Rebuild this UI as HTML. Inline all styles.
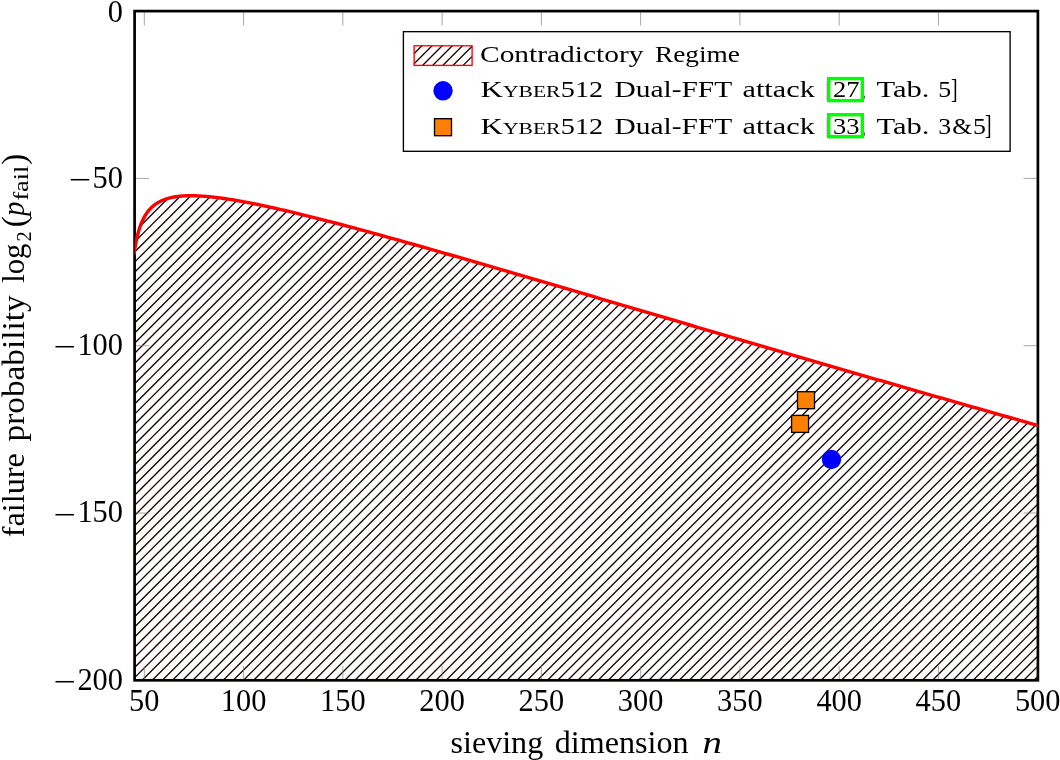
<!DOCTYPE html>
<html><head><meta charset="utf-8"><title>Contradictory Regime</title>
<style>html,body{margin:0;padding:0;background:#fff}svg{display:block}text{font-family:"Liberation Serif",serif;fill:#000}.i{font-style:italic}</style></head><body>
<svg width="1060" height="760" viewBox="0 0 1060 760">
<rect width="1060" height="760" fill="#fff"/>
<defs>
<clipPath id="ax"><rect x="134.6" y="11.1" width="903.3000000000001" height="669.1999999999999"/></clipPath>
<clipPath id="ar"><path d="M134.60,250.36 L134.80,249.08 L135.20,246.65 L135.60,244.39 L136.00,242.28 L136.40,240.30 L136.80,238.44 L137.20,236.70 L137.60,235.05 L138.00,233.50 L138.40,232.03 L138.80,230.64 L139.20,229.32 L139.60,228.07 L140.00,226.88 L140.40,225.75 L140.80,224.67 L141.20,223.64 L141.60,222.65 L142.00,221.71 L142.40,220.81 L142.80,219.95 L143.20,219.13 L143.60,218.33 L144.00,217.57 L144.40,216.84 L144.80,216.14 L145.20,215.47 L145.60,214.82 L146.00,214.19 L146.40,213.59 L146.80,213.01 L147.20,212.45 L147.60,211.91 L148.00,211.38 L148.40,210.88 L148.80,210.39 L149.20,209.92 L149.60,209.47 L150.00,209.03 L150.40,208.60 L150.80,208.19 L151.20,207.79 L151.60,207.40 L152.00,207.03 L152.40,206.66 L152.80,206.31 L153.20,205.97 L153.60,205.64 L154.00,205.32 L154.40,205.01 L154.80,204.70 L155.20,204.41 L155.60,204.13 L156.00,203.85 L156.40,203.58 L156.80,203.32 L157.20,203.07 L157.60,202.82 L158.00,202.59 L158.40,202.35 L158.80,202.13 L159.20,201.91 L159.60,201.70 L160.00,201.49 L162.00,200.54 L164.00,199.72 L166.00,199.01 L168.00,198.40 L170.00,197.87 L172.00,197.41 L174.00,197.03 L176.00,196.70 L178.00,196.43 L180.00,196.21 L182.00,196.03 L184.00,195.90 L186.00,195.80 L188.00,195.74 L190.00,195.71 L192.00,195.72 L194.00,195.74 L196.00,195.80 L198.00,195.87 L200.00,195.97 L202.00,196.09 L204.00,196.23 L206.00,196.39 L208.00,196.57 L210.00,196.76 L212.00,196.97 L214.00,197.19 L216.00,197.42 L218.00,197.67 L220.00,197.93 L222.00,198.20 L224.00,198.48 L226.00,198.77 L228.00,199.08 L230.00,199.39 L232.00,199.71 L234.00,200.04 L236.00,200.38 L238.00,200.72 L240.00,201.07 L242.00,201.43 L244.00,201.80 L246.00,202.18 L248.00,202.56 L250.00,202.94 L252.00,203.33 L254.00,203.73 L256.00,204.14 L258.00,204.54 L260.00,204.96 L262.00,205.38 L264.00,205.80 L266.00,206.23 L268.00,206.66 L270.00,207.10 L272.00,207.54 L274.00,207.98 L276.00,208.43 L278.00,208.88 L280.00,209.34 L282.00,209.80 L284.00,210.26 L286.00,210.72 L288.00,211.19 L290.00,211.66 L292.00,212.14 L294.00,212.62 L296.00,213.10 L298.00,213.58 L300.00,214.07 L306.00,215.54 L312.00,217.03 L318.00,218.55 L324.00,220.08 L330.00,221.62 L336.00,223.19 L342.00,224.76 L348.00,226.36 L354.00,227.96 L360.00,229.57 L366.00,231.20 L372.00,232.83 L378.00,234.48 L384.00,236.13 L390.00,237.79 L396.00,239.46 L402.00,241.13 L408.00,242.82 L414.00,244.51 L420.00,246.20 L426.00,247.90 L432.00,249.60 L438.00,251.31 L444.00,253.03 L450.00,254.75 L456.00,256.47 L462.00,258.20 L468.00,259.93 L474.00,261.66 L480.00,263.40 L486.00,265.13 L492.00,266.88 L498.00,268.62 L504.00,270.37 L510.00,272.12 L516.00,273.87 L522.00,275.62 L528.00,277.37 L534.00,279.13 L540.00,280.88 L546.00,282.64 L552.00,284.40 L558.00,286.16 L564.00,287.93 L570.00,289.69 L576.00,291.45 L582.00,293.22 L588.00,294.98 L594.00,296.74 L600.00,298.51 L606.00,300.28 L612.00,302.04 L618.00,303.81 L624.00,305.58 L630.00,307.34 L636.00,309.11 L642.00,310.88 L648.00,312.64 L654.00,314.41 L660.00,316.17 L666.00,317.94 L672.00,319.71 L678.00,321.47 L684.00,323.24 L690.00,325.00 L696.00,326.76 L702.00,328.53 L708.00,330.29 L714.00,332.05 L720.00,333.81 L726.00,335.57 L732.00,337.33 L738.00,339.09 L744.00,340.85 L750.00,342.61 L756.00,344.36 L762.00,346.12 L768.00,347.87 L774.00,349.63 L780.00,351.38 L786.00,353.13 L792.00,354.88 L798.00,356.63 L804.00,358.38 L810.00,360.13 L816.00,361.87 L822.00,363.62 L828.00,365.36 L834.00,367.10 L840.00,368.84 L846.00,370.58 L852.00,372.32 L858.00,374.06 L864.00,375.79 L870.00,377.53 L876.00,379.26 L882.00,380.99 L888.00,382.72 L894.00,384.45 L900.00,386.18 L906.00,387.90 L912.00,389.63 L918.00,391.35 L924.00,393.07 L930.00,394.79 L936.00,396.51 L942.00,398.23 L948.00,399.94 L954.00,401.65 L960.00,403.37 L966.00,405.08 L972.00,406.78 L978.00,408.49 L984.00,410.20 L990.00,411.90 L996.00,413.60 L1002.00,415.30 L1008.00,417.00 L1014.00,418.70 L1020.00,420.39 L1026.00,422.08 L1032.00,423.78 L1037.90,425.44 L1037.9,680.3 L134.6,680.3 Z"/><rect x="414.1" y="45.8" width="58" height="19.6"/></clipPath>
</defs>
<g clip-path="url(#ar)"><path d="M-552.04,685.3l655.3,-655.3M-541.91,685.3l655.3,-655.3M-531.77,685.3l655.3,-655.3M-521.64,685.3l655.3,-655.3M-511.50,685.3l655.3,-655.3M-501.37,685.3l655.3,-655.3M-491.24,685.3l655.3,-655.3M-481.10,685.3l655.3,-655.3M-470.97,685.3l655.3,-655.3M-460.83,685.3l655.3,-655.3M-450.70,685.3l655.3,-655.3M-440.57,685.3l655.3,-655.3M-430.43,685.3l655.3,-655.3M-420.30,685.3l655.3,-655.3M-410.16,685.3l655.3,-655.3M-400.03,685.3l655.3,-655.3M-389.90,685.3l655.3,-655.3M-379.76,685.3l655.3,-655.3M-369.63,685.3l655.3,-655.3M-359.49,685.3l655.3,-655.3M-349.36,685.3l655.3,-655.3M-339.23,685.3l655.3,-655.3M-329.09,685.3l655.3,-655.3M-318.96,685.3l655.3,-655.3M-308.82,685.3l655.3,-655.3M-298.69,685.3l655.3,-655.3M-288.56,685.3l655.3,-655.3M-278.42,685.3l655.3,-655.3M-268.29,685.3l655.3,-655.3M-258.15,685.3l655.3,-655.3M-248.02,685.3l655.3,-655.3M-237.89,685.3l655.3,-655.3M-227.75,685.3l655.3,-655.3M-217.62,685.3l655.3,-655.3M-207.48,685.3l655.3,-655.3M-197.35,685.3l655.3,-655.3M-187.22,685.3l655.3,-655.3M-177.08,685.3l655.3,-655.3M-166.95,685.3l655.3,-655.3M-156.81,685.3l655.3,-655.3M-146.68,685.3l655.3,-655.3M-136.55,685.3l655.3,-655.3M-126.41,685.3l655.3,-655.3M-116.28,685.3l655.3,-655.3M-106.14,685.3l655.3,-655.3M-96.01,685.3l655.3,-655.3M-85.88,685.3l655.3,-655.3M-75.74,685.3l655.3,-655.3M-65.61,685.3l655.3,-655.3M-55.47,685.3l655.3,-655.3M-45.34,685.3l655.3,-655.3M-35.21,685.3l655.3,-655.3M-25.07,685.3l655.3,-655.3M-14.94,685.3l655.3,-655.3M-4.80,685.3l655.3,-655.3M5.33,685.3l655.3,-655.3M15.46,685.3l655.3,-655.3M25.60,685.3l655.3,-655.3M35.73,685.3l655.3,-655.3M45.87,685.3l655.3,-655.3M56.00,685.3l655.3,-655.3M66.13,685.3l655.3,-655.3M76.27,685.3l655.3,-655.3M86.40,685.3l655.3,-655.3M96.54,685.3l655.3,-655.3M106.67,685.3l655.3,-655.3M116.80,685.3l655.3,-655.3M126.94,685.3l655.3,-655.3M137.07,685.3l655.3,-655.3M147.21,685.3l655.3,-655.3M157.34,685.3l655.3,-655.3M167.47,685.3l655.3,-655.3M177.61,685.3l655.3,-655.3M187.74,685.3l655.3,-655.3M197.88,685.3l655.3,-655.3M208.01,685.3l655.3,-655.3M218.14,685.3l655.3,-655.3M228.28,685.3l655.3,-655.3M238.41,685.3l655.3,-655.3M248.55,685.3l655.3,-655.3M258.68,685.3l655.3,-655.3M268.81,685.3l655.3,-655.3M278.95,685.3l655.3,-655.3M289.08,685.3l655.3,-655.3M299.22,685.3l655.3,-655.3M309.35,685.3l655.3,-655.3M319.48,685.3l655.3,-655.3M329.62,685.3l655.3,-655.3M339.75,685.3l655.3,-655.3M349.89,685.3l655.3,-655.3M360.02,685.3l655.3,-655.3M370.15,685.3l655.3,-655.3M380.29,685.3l655.3,-655.3M390.42,685.3l655.3,-655.3M400.56,685.3l655.3,-655.3M410.69,685.3l655.3,-655.3M420.82,685.3l655.3,-655.3M430.96,685.3l655.3,-655.3M441.09,685.3l655.3,-655.3M451.23,685.3l655.3,-655.3M461.36,685.3l655.3,-655.3M471.49,685.3l655.3,-655.3M481.63,685.3l655.3,-655.3M491.76,685.3l655.3,-655.3M501.90,685.3l655.3,-655.3M512.03,685.3l655.3,-655.3M522.16,685.3l655.3,-655.3M532.30,685.3l655.3,-655.3M542.43,685.3l655.3,-655.3M552.57,685.3l655.3,-655.3M562.70,685.3l655.3,-655.3M572.83,685.3l655.3,-655.3M582.97,685.3l655.3,-655.3M593.10,685.3l655.3,-655.3M603.24,685.3l655.3,-655.3M613.37,685.3l655.3,-655.3M623.50,685.3l655.3,-655.3M633.64,685.3l655.3,-655.3M643.77,685.3l655.3,-655.3M653.91,685.3l655.3,-655.3M664.04,685.3l655.3,-655.3M674.17,685.3l655.3,-655.3M684.31,685.3l655.3,-655.3M694.44,685.3l655.3,-655.3M704.58,685.3l655.3,-655.3M714.71,685.3l655.3,-655.3M724.84,685.3l655.3,-655.3M734.98,685.3l655.3,-655.3M745.11,685.3l655.3,-655.3M755.25,685.3l655.3,-655.3M765.38,685.3l655.3,-655.3M775.51,685.3l655.3,-655.3M785.65,685.3l655.3,-655.3M795.78,685.3l655.3,-655.3M805.92,685.3l655.3,-655.3M816.05,685.3l655.3,-655.3M826.18,685.3l655.3,-655.3M836.32,685.3l655.3,-655.3M846.45,685.3l655.3,-655.3M856.59,685.3l655.3,-655.3M866.72,685.3l655.3,-655.3M876.85,685.3l655.3,-655.3M886.99,685.3l655.3,-655.3M897.12,685.3l655.3,-655.3M907.26,685.3l655.3,-655.3M917.39,685.3l655.3,-655.3M927.52,685.3l655.3,-655.3M937.66,685.3l655.3,-655.3M947.79,685.3l655.3,-655.3M957.93,685.3l655.3,-655.3M968.06,685.3l655.3,-655.3M978.19,685.3l655.3,-655.3M988.33,685.3l655.3,-655.3M998.46,685.3l655.3,-655.3M1008.60,685.3l655.3,-655.3M1018.73,685.3l655.3,-655.3M1028.86,685.3l655.3,-655.3M1039.00,685.3l655.3,-655.3M1049.13,685.3l655.3,-655.3" stroke="#800000" stroke-opacity="0.35" stroke-width="1.45" fill="none"/><path d="M-552.04,685.3l655.3,-655.3M-541.91,685.3l655.3,-655.3M-531.77,685.3l655.3,-655.3M-521.64,685.3l655.3,-655.3M-511.50,685.3l655.3,-655.3M-501.37,685.3l655.3,-655.3M-491.24,685.3l655.3,-655.3M-481.10,685.3l655.3,-655.3M-470.97,685.3l655.3,-655.3M-460.83,685.3l655.3,-655.3M-450.70,685.3l655.3,-655.3M-440.57,685.3l655.3,-655.3M-430.43,685.3l655.3,-655.3M-420.30,685.3l655.3,-655.3M-410.16,685.3l655.3,-655.3M-400.03,685.3l655.3,-655.3M-389.90,685.3l655.3,-655.3M-379.76,685.3l655.3,-655.3M-369.63,685.3l655.3,-655.3M-359.49,685.3l655.3,-655.3M-349.36,685.3l655.3,-655.3M-339.23,685.3l655.3,-655.3M-329.09,685.3l655.3,-655.3M-318.96,685.3l655.3,-655.3M-308.82,685.3l655.3,-655.3M-298.69,685.3l655.3,-655.3M-288.56,685.3l655.3,-655.3M-278.42,685.3l655.3,-655.3M-268.29,685.3l655.3,-655.3M-258.15,685.3l655.3,-655.3M-248.02,685.3l655.3,-655.3M-237.89,685.3l655.3,-655.3M-227.75,685.3l655.3,-655.3M-217.62,685.3l655.3,-655.3M-207.48,685.3l655.3,-655.3M-197.35,685.3l655.3,-655.3M-187.22,685.3l655.3,-655.3M-177.08,685.3l655.3,-655.3M-166.95,685.3l655.3,-655.3M-156.81,685.3l655.3,-655.3M-146.68,685.3l655.3,-655.3M-136.55,685.3l655.3,-655.3M-126.41,685.3l655.3,-655.3M-116.28,685.3l655.3,-655.3M-106.14,685.3l655.3,-655.3M-96.01,685.3l655.3,-655.3M-85.88,685.3l655.3,-655.3M-75.74,685.3l655.3,-655.3M-65.61,685.3l655.3,-655.3M-55.47,685.3l655.3,-655.3M-45.34,685.3l655.3,-655.3M-35.21,685.3l655.3,-655.3M-25.07,685.3l655.3,-655.3M-14.94,685.3l655.3,-655.3M-4.80,685.3l655.3,-655.3M5.33,685.3l655.3,-655.3M15.46,685.3l655.3,-655.3M25.60,685.3l655.3,-655.3M35.73,685.3l655.3,-655.3M45.87,685.3l655.3,-655.3M56.00,685.3l655.3,-655.3M66.13,685.3l655.3,-655.3M76.27,685.3l655.3,-655.3M86.40,685.3l655.3,-655.3M96.54,685.3l655.3,-655.3M106.67,685.3l655.3,-655.3M116.80,685.3l655.3,-655.3M126.94,685.3l655.3,-655.3M137.07,685.3l655.3,-655.3M147.21,685.3l655.3,-655.3M157.34,685.3l655.3,-655.3M167.47,685.3l655.3,-655.3M177.61,685.3l655.3,-655.3M187.74,685.3l655.3,-655.3M197.88,685.3l655.3,-655.3M208.01,685.3l655.3,-655.3M218.14,685.3l655.3,-655.3M228.28,685.3l655.3,-655.3M238.41,685.3l655.3,-655.3M248.55,685.3l655.3,-655.3M258.68,685.3l655.3,-655.3M268.81,685.3l655.3,-655.3M278.95,685.3l655.3,-655.3M289.08,685.3l655.3,-655.3M299.22,685.3l655.3,-655.3M309.35,685.3l655.3,-655.3M319.48,685.3l655.3,-655.3M329.62,685.3l655.3,-655.3M339.75,685.3l655.3,-655.3M349.89,685.3l655.3,-655.3M360.02,685.3l655.3,-655.3M370.15,685.3l655.3,-655.3M380.29,685.3l655.3,-655.3M390.42,685.3l655.3,-655.3M400.56,685.3l655.3,-655.3M410.69,685.3l655.3,-655.3M420.82,685.3l655.3,-655.3M430.96,685.3l655.3,-655.3M441.09,685.3l655.3,-655.3M451.23,685.3l655.3,-655.3M461.36,685.3l655.3,-655.3M471.49,685.3l655.3,-655.3M481.63,685.3l655.3,-655.3M491.76,685.3l655.3,-655.3M501.90,685.3l655.3,-655.3M512.03,685.3l655.3,-655.3M522.16,685.3l655.3,-655.3M532.30,685.3l655.3,-655.3M542.43,685.3l655.3,-655.3M552.57,685.3l655.3,-655.3M562.70,685.3l655.3,-655.3M572.83,685.3l655.3,-655.3M582.97,685.3l655.3,-655.3M593.10,685.3l655.3,-655.3M603.24,685.3l655.3,-655.3M613.37,685.3l655.3,-655.3M623.50,685.3l655.3,-655.3M633.64,685.3l655.3,-655.3M643.77,685.3l655.3,-655.3M653.91,685.3l655.3,-655.3M664.04,685.3l655.3,-655.3M674.17,685.3l655.3,-655.3M684.31,685.3l655.3,-655.3M694.44,685.3l655.3,-655.3M704.58,685.3l655.3,-655.3M714.71,685.3l655.3,-655.3M724.84,685.3l655.3,-655.3M734.98,685.3l655.3,-655.3M745.11,685.3l655.3,-655.3M755.25,685.3l655.3,-655.3M765.38,685.3l655.3,-655.3M775.51,685.3l655.3,-655.3M785.65,685.3l655.3,-655.3M795.78,685.3l655.3,-655.3M805.92,685.3l655.3,-655.3M816.05,685.3l655.3,-655.3M826.18,685.3l655.3,-655.3M836.32,685.3l655.3,-655.3M846.45,685.3l655.3,-655.3M856.59,685.3l655.3,-655.3M866.72,685.3l655.3,-655.3M876.85,685.3l655.3,-655.3M886.99,685.3l655.3,-655.3M897.12,685.3l655.3,-655.3M907.26,685.3l655.3,-655.3M917.39,685.3l655.3,-655.3M927.52,685.3l655.3,-655.3M937.66,685.3l655.3,-655.3M947.79,685.3l655.3,-655.3M957.93,685.3l655.3,-655.3M968.06,685.3l655.3,-655.3M978.19,685.3l655.3,-655.3M988.33,685.3l655.3,-655.3M998.46,685.3l655.3,-655.3M1008.60,685.3l655.3,-655.3M1018.73,685.3l655.3,-655.3M1028.86,685.3l655.3,-655.3M1039.00,685.3l655.3,-655.3M1049.13,685.3l655.3,-655.3" stroke="#0d0000" stroke-width="1.17" fill="none"/></g>
<path d="M144.30,11.1v14.4M144.30,680.3v-14.4M243.57,11.1v14.4M243.57,680.3v-14.4M342.83,11.1v14.4M342.83,680.3v-14.4M442.10,11.1v14.4M442.10,680.3v-14.4M541.37,11.1v14.4M541.37,680.3v-14.4M640.63,11.1v14.4M640.63,680.3v-14.4M739.90,11.1v14.4M739.90,680.3v-14.4M839.17,11.1v14.4M839.17,680.3v-14.4M938.43,11.1v14.4M938.43,680.3v-14.4M1037.70,11.1v14.4M1037.70,680.3v-14.4M134.6,11.10h14.4M1037.9,11.10h-14.4M134.6,178.40h14.4M1037.9,178.40h-14.4M134.6,345.70h14.4M1037.9,345.70h-14.4M134.6,513.00h14.4M1037.9,513.00h-14.4M134.6,680.30h14.4M1037.9,680.30h-14.4" stroke="#808080" stroke-width="0.7" fill="none"/>
<rect x="134.6" y="11.1" width="903.3000000000001" height="669.1999999999999" fill="none" stroke="#000" stroke-width="2.7"/>
<g clip-path="url(#ax)">
<path d="M134.00,254.51 L134.40,251.69 L134.80,249.08 L135.20,246.65 L135.60,244.39 L136.00,242.28 L136.40,240.30 L136.80,238.44 L137.20,236.70 L137.60,235.05 L138.00,233.50 L138.40,232.03 L138.80,230.64 L139.20,229.32 L139.60,228.07 L140.00,226.88 L140.40,225.75 L140.80,224.67 L141.20,223.64 L141.60,222.65 L142.00,221.71 L142.40,220.81 L142.80,219.95 L143.20,219.13 L143.60,218.33 L144.00,217.57 L144.40,216.84 L144.80,216.14 L145.20,215.47 L145.60,214.82 L146.00,214.19 L146.40,213.59 L146.80,213.01 L147.20,212.45 L147.60,211.91 L148.00,211.38 L148.40,210.88 L148.80,210.39 L149.20,209.92 L149.60,209.47 L150.00,209.03 L150.40,208.60 L150.80,208.19 L151.20,207.79 L151.60,207.40 L152.00,207.03 L152.40,206.66 L152.80,206.31 L153.20,205.97 L153.60,205.64 L154.00,205.32 L154.40,205.01 L154.80,204.70 L155.20,204.41 L155.60,204.13 L156.00,203.85 L156.40,203.58 L156.80,203.32 L157.20,203.07 L157.60,202.82 L158.00,202.59 L158.40,202.35 L158.80,202.13 L159.20,201.91 L159.60,201.70 L160.00,201.49 L162.00,200.54 L164.00,199.72 L166.00,199.01 L168.00,198.40 L170.00,197.87 L172.00,197.41 L174.00,197.03 L176.00,196.70 L178.00,196.43 L180.00,196.21 L182.00,196.03 L184.00,195.90 L186.00,195.80 L188.00,195.74 L190.00,195.71 L192.00,195.72 L194.00,195.74 L196.00,195.80 L198.00,195.87 L200.00,195.97 L202.00,196.09 L204.00,196.23 L206.00,196.39 L208.00,196.57 L210.00,196.76 L212.00,196.97 L214.00,197.19 L216.00,197.42 L218.00,197.67 L220.00,197.93 L222.00,198.20 L224.00,198.48 L226.00,198.77 L228.00,199.08 L230.00,199.39 L232.00,199.71 L234.00,200.04 L236.00,200.38 L238.00,200.72 L240.00,201.07 L242.00,201.43 L244.00,201.80 L246.00,202.18 L248.00,202.56 L250.00,202.94 L252.00,203.33 L254.00,203.73 L256.00,204.14 L258.00,204.54 L260.00,204.96 L262.00,205.38 L264.00,205.80 L266.00,206.23 L268.00,206.66 L270.00,207.10 L272.00,207.54 L274.00,207.98 L276.00,208.43 L278.00,208.88 L280.00,209.34 L282.00,209.80 L284.00,210.26 L286.00,210.72 L288.00,211.19 L290.00,211.66 L292.00,212.14 L294.00,212.62 L296.00,213.10 L298.00,213.58 L300.00,214.07 L306.00,215.54 L312.00,217.03 L318.00,218.55 L324.00,220.08 L330.00,221.62 L336.00,223.19 L342.00,224.76 L348.00,226.36 L354.00,227.96 L360.00,229.57 L366.00,231.20 L372.00,232.83 L378.00,234.48 L384.00,236.13 L390.00,237.79 L396.00,239.46 L402.00,241.13 L408.00,242.82 L414.00,244.51 L420.00,246.20 L426.00,247.90 L432.00,249.60 L438.00,251.31 L444.00,253.03 L450.00,254.75 L456.00,256.47 L462.00,258.20 L468.00,259.93 L474.00,261.66 L480.00,263.40 L486.00,265.13 L492.00,266.88 L498.00,268.62 L504.00,270.37 L510.00,272.12 L516.00,273.87 L522.00,275.62 L528.00,277.37 L534.00,279.13 L540.00,280.88 L546.00,282.64 L552.00,284.40 L558.00,286.16 L564.00,287.93 L570.00,289.69 L576.00,291.45 L582.00,293.22 L588.00,294.98 L594.00,296.74 L600.00,298.51 L606.00,300.28 L612.00,302.04 L618.00,303.81 L624.00,305.58 L630.00,307.34 L636.00,309.11 L642.00,310.88 L648.00,312.64 L654.00,314.41 L660.00,316.17 L666.00,317.94 L672.00,319.71 L678.00,321.47 L684.00,323.24 L690.00,325.00 L696.00,326.76 L702.00,328.53 L708.00,330.29 L714.00,332.05 L720.00,333.81 L726.00,335.57 L732.00,337.33 L738.00,339.09 L744.00,340.85 L750.00,342.61 L756.00,344.36 L762.00,346.12 L768.00,347.87 L774.00,349.63 L780.00,351.38 L786.00,353.13 L792.00,354.88 L798.00,356.63 L804.00,358.38 L810.00,360.13 L816.00,361.87 L822.00,363.62 L828.00,365.36 L834.00,367.10 L840.00,368.84 L846.00,370.58 L852.00,372.32 L858.00,374.06 L864.00,375.79 L870.00,377.53 L876.00,379.26 L882.00,380.99 L888.00,382.72 L894.00,384.45 L900.00,386.18 L906.00,387.90 L912.00,389.63 L918.00,391.35 L924.00,393.07 L930.00,394.79 L936.00,396.51 L942.00,398.23 L948.00,399.94 L954.00,401.65 L960.00,403.37 L966.00,405.08 L972.00,406.78 L978.00,408.49 L984.00,410.20 L990.00,411.90 L996.00,413.60 L1002.00,415.30 L1008.00,417.00 L1014.00,418.70 L1020.00,420.39 L1026.00,422.08 L1032.00,423.78 L1038.00,425.46 L1042.00,426.59" stroke="#ff0000" stroke-width="3.4" fill="none" stroke-linejoin="round"/></g>
<rect x="797.50" y="391.70" width="17" height="17" fill="#ff8000" stroke="#000" stroke-width="1.35"/>
<rect x="791.57" y="415.40" width="17" height="17" fill="#ff8000" stroke="#000" stroke-width="1.35"/>
<circle cx="831.5" cy="459.5" r="9.7" fill="#0000ff"/>
<rect x="403.4" y="31.65" width="606.7" height="119.65" fill="none" stroke="#000" stroke-width="1.35"/>
<rect x="414.1" y="45.8" width="58" height="19.6" fill="none" stroke="#ff0000" stroke-width="1.35"/>
<circle cx="443.05" cy="90.8" r="9.7" fill="#0000ff"/>
<rect x="434.5" y="118.7" width="17" height="17" fill="#ff8000" stroke="#000" stroke-width="1.35"/>
<text x="480.0" y="61.9" font-size="24.0" textLength="163.5" lengthAdjust="spacingAndGlyphs">Contradictory</text>
<text x="655.0" y="61.9" font-size="24.0" textLength="85.0" lengthAdjust="spacingAndGlyphs">Regime</text>
<text x="480.6" y="97.4" font-size="24.0" textLength="22.4" lengthAdjust="spacingAndGlyphs">K</text>
<text x="503.0" y="97.4" font-size="17.28" textLength="57.5" lengthAdjust="spacingAndGlyphs">YBER</text>
<text x="560.8" y="97.4" font-size="24.0" textLength="42.4" lengthAdjust="spacingAndGlyphs">512</text>
<text x="614.4" y="97.4" font-size="24.0" textLength="117.8" lengthAdjust="spacingAndGlyphs">Dual-FFT</text>
<text x="742.5" y="97.4" font-size="24.0" textLength="72.3" lengthAdjust="spacingAndGlyphs">attack</text>
<text x="825.6" y="97.4" font-size="24.0" textLength="6.0" lengthAdjust="spacingAndGlyphs">[</text>
<text x="833.0" y="97.4" font-size="24.0" textLength="26.5" lengthAdjust="spacingAndGlyphs">27</text>
<text x="861.0" y="97.4" font-size="24.0" textLength="5.0" lengthAdjust="spacingAndGlyphs">,</text>
<rect x="828.7" y="78.60" width="33.6" height="22.0" fill="none" stroke="#00ff00" stroke-width="3.4"/>
<text x="876.5" y="97.4" font-size="24.0" textLength="53.0" lengthAdjust="spacingAndGlyphs">Tab.</text>
<text x="938.2" y="97.4" font-size="24.0" textLength="12.9" lengthAdjust="spacingAndGlyphs">5</text>
<text x="951.0" y="98.2" font-size="28" textLength="6.6" lengthAdjust="spacingAndGlyphs">]</text>
<text x="480.6" y="133.5" font-size="24.0" textLength="22.4" lengthAdjust="spacingAndGlyphs">K</text>
<text x="503.0" y="133.5" font-size="17.28" textLength="57.5" lengthAdjust="spacingAndGlyphs">YBER</text>
<text x="560.8" y="133.5" font-size="24.0" textLength="42.4" lengthAdjust="spacingAndGlyphs">512</text>
<text x="614.4" y="133.5" font-size="24.0" textLength="117.8" lengthAdjust="spacingAndGlyphs">Dual-FFT</text>
<text x="742.5" y="133.5" font-size="24.0" textLength="72.3" lengthAdjust="spacingAndGlyphs">attack</text>
<text x="825.6" y="133.5" font-size="24.0" textLength="6.0" lengthAdjust="spacingAndGlyphs">[</text>
<text x="833.0" y="133.5" font-size="24.0" textLength="26.5" lengthAdjust="spacingAndGlyphs">33</text>
<text x="861.0" y="133.5" font-size="24.0" textLength="5.0" lengthAdjust="spacingAndGlyphs">,</text>
<rect x="828.7" y="114.70" width="33.6" height="22.0" fill="none" stroke="#00ff00" stroke-width="3.4"/>
<text x="876.5" y="133.5" font-size="24.0" textLength="53.0" lengthAdjust="spacingAndGlyphs">Tab.</text>
<text x="938.2" y="133.5" font-size="24.0" textLength="12.9" lengthAdjust="spacingAndGlyphs">3</text>
<text x="952.3" y="133.5" font-size="24.0" textLength="19.8" lengthAdjust="spacingAndGlyphs">&amp;</text>
<text x="973.0" y="133.5" font-size="24.0" textLength="12.9" lengthAdjust="spacingAndGlyphs">5</text>
<text x="985.1" y="134.3" font-size="28" textLength="6.6" lengthAdjust="spacingAndGlyphs">]</text>
<text x="129.1" y="711.4" font-size="31" textLength="30.4" lengthAdjust="spacingAndGlyphs">50</text>
<text x="220.8" y="711.4" font-size="31" textLength="45.6" lengthAdjust="spacingAndGlyphs">100</text>
<text x="320.0" y="711.4" font-size="31" textLength="45.6" lengthAdjust="spacingAndGlyphs">150</text>
<text x="419.3" y="711.4" font-size="31" textLength="45.6" lengthAdjust="spacingAndGlyphs">200</text>
<text x="518.6" y="711.4" font-size="31" textLength="45.6" lengthAdjust="spacingAndGlyphs">250</text>
<text x="617.8" y="711.4" font-size="31" textLength="45.6" lengthAdjust="spacingAndGlyphs">300</text>
<text x="717.1" y="711.4" font-size="31" textLength="45.6" lengthAdjust="spacingAndGlyphs">350</text>
<text x="816.4" y="711.4" font-size="31" textLength="45.6" lengthAdjust="spacingAndGlyphs">400</text>
<text x="915.6" y="711.4" font-size="31" textLength="45.6" lengthAdjust="spacingAndGlyphs">450</text>
<text x="1014.9" y="711.4" font-size="31" textLength="45.6" lengthAdjust="spacingAndGlyphs">500</text>
<text x="107.8" y="21.9" font-size="31" textLength="15.2" lengthAdjust="spacingAndGlyphs">0</text>
<text x="92.6" y="187.6" font-size="31" textLength="30.4" lengthAdjust="spacingAndGlyphs">50</text>
<text x="68.8" y="190.1" font-size="31" textLength="22.4" lengthAdjust="spacingAndGlyphs">−</text>
<text x="77.4" y="354.9" font-size="31" textLength="45.6" lengthAdjust="spacingAndGlyphs">100</text>
<text x="53.6" y="357.4" font-size="31" textLength="22.4" lengthAdjust="spacingAndGlyphs">−</text>
<text x="77.4" y="522.2" font-size="31" textLength="45.6" lengthAdjust="spacingAndGlyphs">150</text>
<text x="53.6" y="524.7" font-size="31" textLength="22.4" lengthAdjust="spacingAndGlyphs">−</text>
<text x="77.4" y="689.5" font-size="31" textLength="45.6" lengthAdjust="spacingAndGlyphs">200</text>
<text x="53.6" y="692.0" font-size="31" textLength="22.4" lengthAdjust="spacingAndGlyphs">−</text>
<text x="450.5" y="753.2" font-size="31" textLength="92.7" lengthAdjust="spacingAndGlyphs">sieving</text>
<text x="554.8" y="753.2" font-size="31" textLength="133.8" lengthAdjust="spacingAndGlyphs">dimension</text>
<text x="702.6" y="753.2" font-size="31" textLength="19.4" lengthAdjust="spacingAndGlyphs" class="i">n</text>
<g transform="translate(23.5,536.8) rotate(-90)">
<text x="-0.5" y="0.0" font-size="31" textLength="84.1" lengthAdjust="spacingAndGlyphs">failure</text>
<text x="95.4" y="0.0" font-size="31" textLength="146.0" lengthAdjust="spacingAndGlyphs">probability</text>
<text x="254.0" y="0.0" font-size="31" textLength="39.2" lengthAdjust="spacingAndGlyphs">log</text>
<text x="295.2" y="7.6" font-size="21.5" textLength="10.2" lengthAdjust="spacingAndGlyphs">2</text>
<text x="309.5" y="1.2" font-size="34" textLength="11.0" lengthAdjust="spacingAndGlyphs">(</text>
<text x="320.8" y="0.0" font-size="31" textLength="14.4" lengthAdjust="spacingAndGlyphs" class="i">p</text>
<text x="336.2" y="4.4" font-size="21.5" textLength="34.8" lengthAdjust="spacingAndGlyphs">fail</text>
<text x="372.0" y="1.2" font-size="34" textLength="11.0" lengthAdjust="spacingAndGlyphs">)</text>
</g>
</svg></body></html>
